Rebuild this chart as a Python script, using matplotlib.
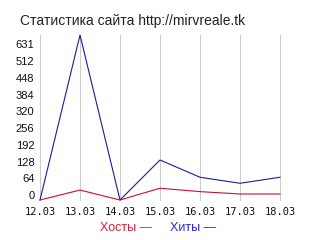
import matplotlib
matplotlib.use("Agg")
import matplotlib.pyplot as plt
import matplotlib.transforms as mtransforms

# data
dates = ["12.03", "13.03", "14.03", "15.03", "16.03", "17.03", "18.03"]
hits = [0, 631, 0, 153, 87, 64, 87]
hosts = [0, 38, 0, 45, 32, 23, 23]
y_ticks = [0, 64, 128, 192, 256, 320, 384, 448, 512, 576]
y_labels = ["0", "64", "128", "192", "256", "320", "384", "448", "512", "631"]

fig = plt.figure(figsize=(3.2, 2.4), dpi=100)
fig.patch.set_facecolor("white")
ax = fig.add_axes([40 / 320, 40 / 240, 240 / 320, 165 / 240])

x = list(range(len(dates)))
ax.plot(x, hits, color="#1a1aa0", lw=0.8, clip_on=False, zorder=3)
ax.plot(x, hosts, color="#c8102e", lw=0.8, clip_on=False, zorder=4)

ax.set_xlim(0, len(dates) - 1)
ax.set_ylim(0, max(hits))
for xi in x:
    ax.axvline(xi, color="#cccccc", lw=0.72, zorder=1, clip_on=False)

for s in ax.spines.values():
    s.set_visible(False)
ax.tick_params(length=0)
ax.set_xticks(x)
ax.set_xticklabels(dates, family="DejaVu Sans Mono", fontsize=7.5, color="#111111")
ax.tick_params(axis="x", pad=5)
ax.set_yticks(y_ticks)
ax.set_yticklabels(y_labels, family="Liberation Sans", fontsize=8, color="#111111")
ax.tick_params(axis="y", pad=4)
shift = mtransforms.ScaledTranslation(0, 5 / 100, fig.dpi_scale_trans)
for lab in ax.get_yticklabels():
    lab.set_transform(lab.get_transform() + shift)

fig.text(20 / 320, 1 - 21 / 240, "Статистика сайта http://mirvreale.tk",
         family="Liberation Sans", fontsize=10, color="#222222", va="center", ha="left")
fig.text(100 / 320, 12 / 240, "Хосты —", family="Liberation Sans", fontsize=9,
         color="#e0203a", va="center", ha="left")
fig.text(170 / 320, 12 / 240, "Хиты —", family="Liberation Sans", fontsize=9,
         color="#2a2ad0", va="center", ha="left")

fig.savefig("out.png", dpi=100)
